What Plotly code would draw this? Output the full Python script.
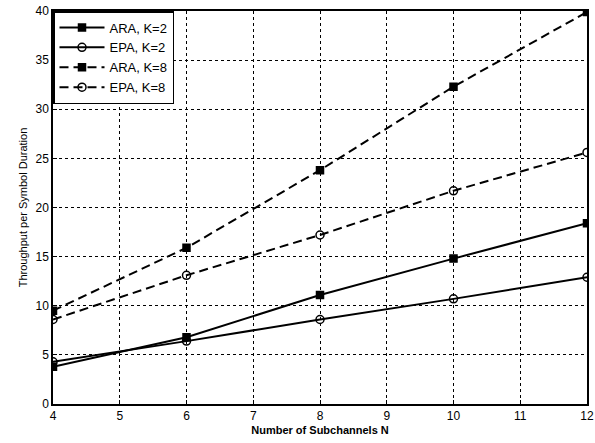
import plotly.graph_objects as go

N = [4, 6, 8, 10, 12]
ara_k2 = [3.8, 6.8, 11.1, 14.8, 18.4]
epa_k2 = [4.3, 6.4, 8.6, 10.7, 12.9]
ara_k8 = [9.5, 15.9, 23.8, 32.3, 39.9]
epa_k8 = [8.6, 13.1, 17.2, 21.7, 25.6]
x_ticks = [4, 5, 6, 7, 8, 9, 10, 11, 12]
y_ticks = [0, 5, 10, 15, 20, 25, 30, 35, 40]

fig = go.Figure()
series = [
    ("ARA, K=2", ara_k2, "solid", "square"),
    ("EPA, K=2", epa_k2, "solid", "circle-open"),
    ("ARA, K=8", ara_k8, "9px,5px", "square"),
    ("EPA, K=8", epa_k8, "9px,5px", "circle-open"),
]
for name, ys, dash, sym in series:
    fig.add_trace(go.Scatter(
        x=N, y=ys, name=name, mode="lines+markers",
        line=dict(color="black", width=2, dash=dash),
        marker=dict(symbol=sym, size=8 if "circle" in sym else 7, color="black",
                    line=dict(color="black", width=1.5)),
    ))

axis_common = dict(
    showline=True, linecolor="black", linewidth=1.5, mirror=True,
    showgrid=True, gridcolor="black", gridwidth=1, griddash="dot",
    zeroline=False, ticks="inside", ticklen=4, tickcolor="black",
    automargin=False,
    tickfont=dict(family="Liberation Sans, Arial", size=12, color="black"),
)
fig.update_xaxes(range=[4, 12], tickvals=x_ticks,
                 title=dict(text="<b>Number of Subchannels N</b>",
                            font=dict(family="Liberation Sans, Arial", size=11, color="black"),
                            standoff=4),
                 **axis_common)
fig.update_yaxes(range=[0, 40], tickvals=y_ticks,
                 title=dict(text="Throughput per Symbol Duration",
                            font=dict(family="Liberation Sans, Arial", size=11, color="black"),
                            standoff=6),
                 **axis_common)

fig.update_layout(
    width=595, height=443,
    margin=dict(l=53, r=8, t=11, b=39),
    plot_bgcolor="white", paper_bgcolor="white",
    legend=dict(x=0, y=1, xanchor="left", yanchor="top",
                bgcolor="white", bordercolor="black", borderwidth=1.5,
                font=dict(family="Liberation Sans, Arial", size=13, color="black"),
                tracegroupgap=0, itemwidth=45),
    showlegend=True,
)
fig.write_html("out.html")
